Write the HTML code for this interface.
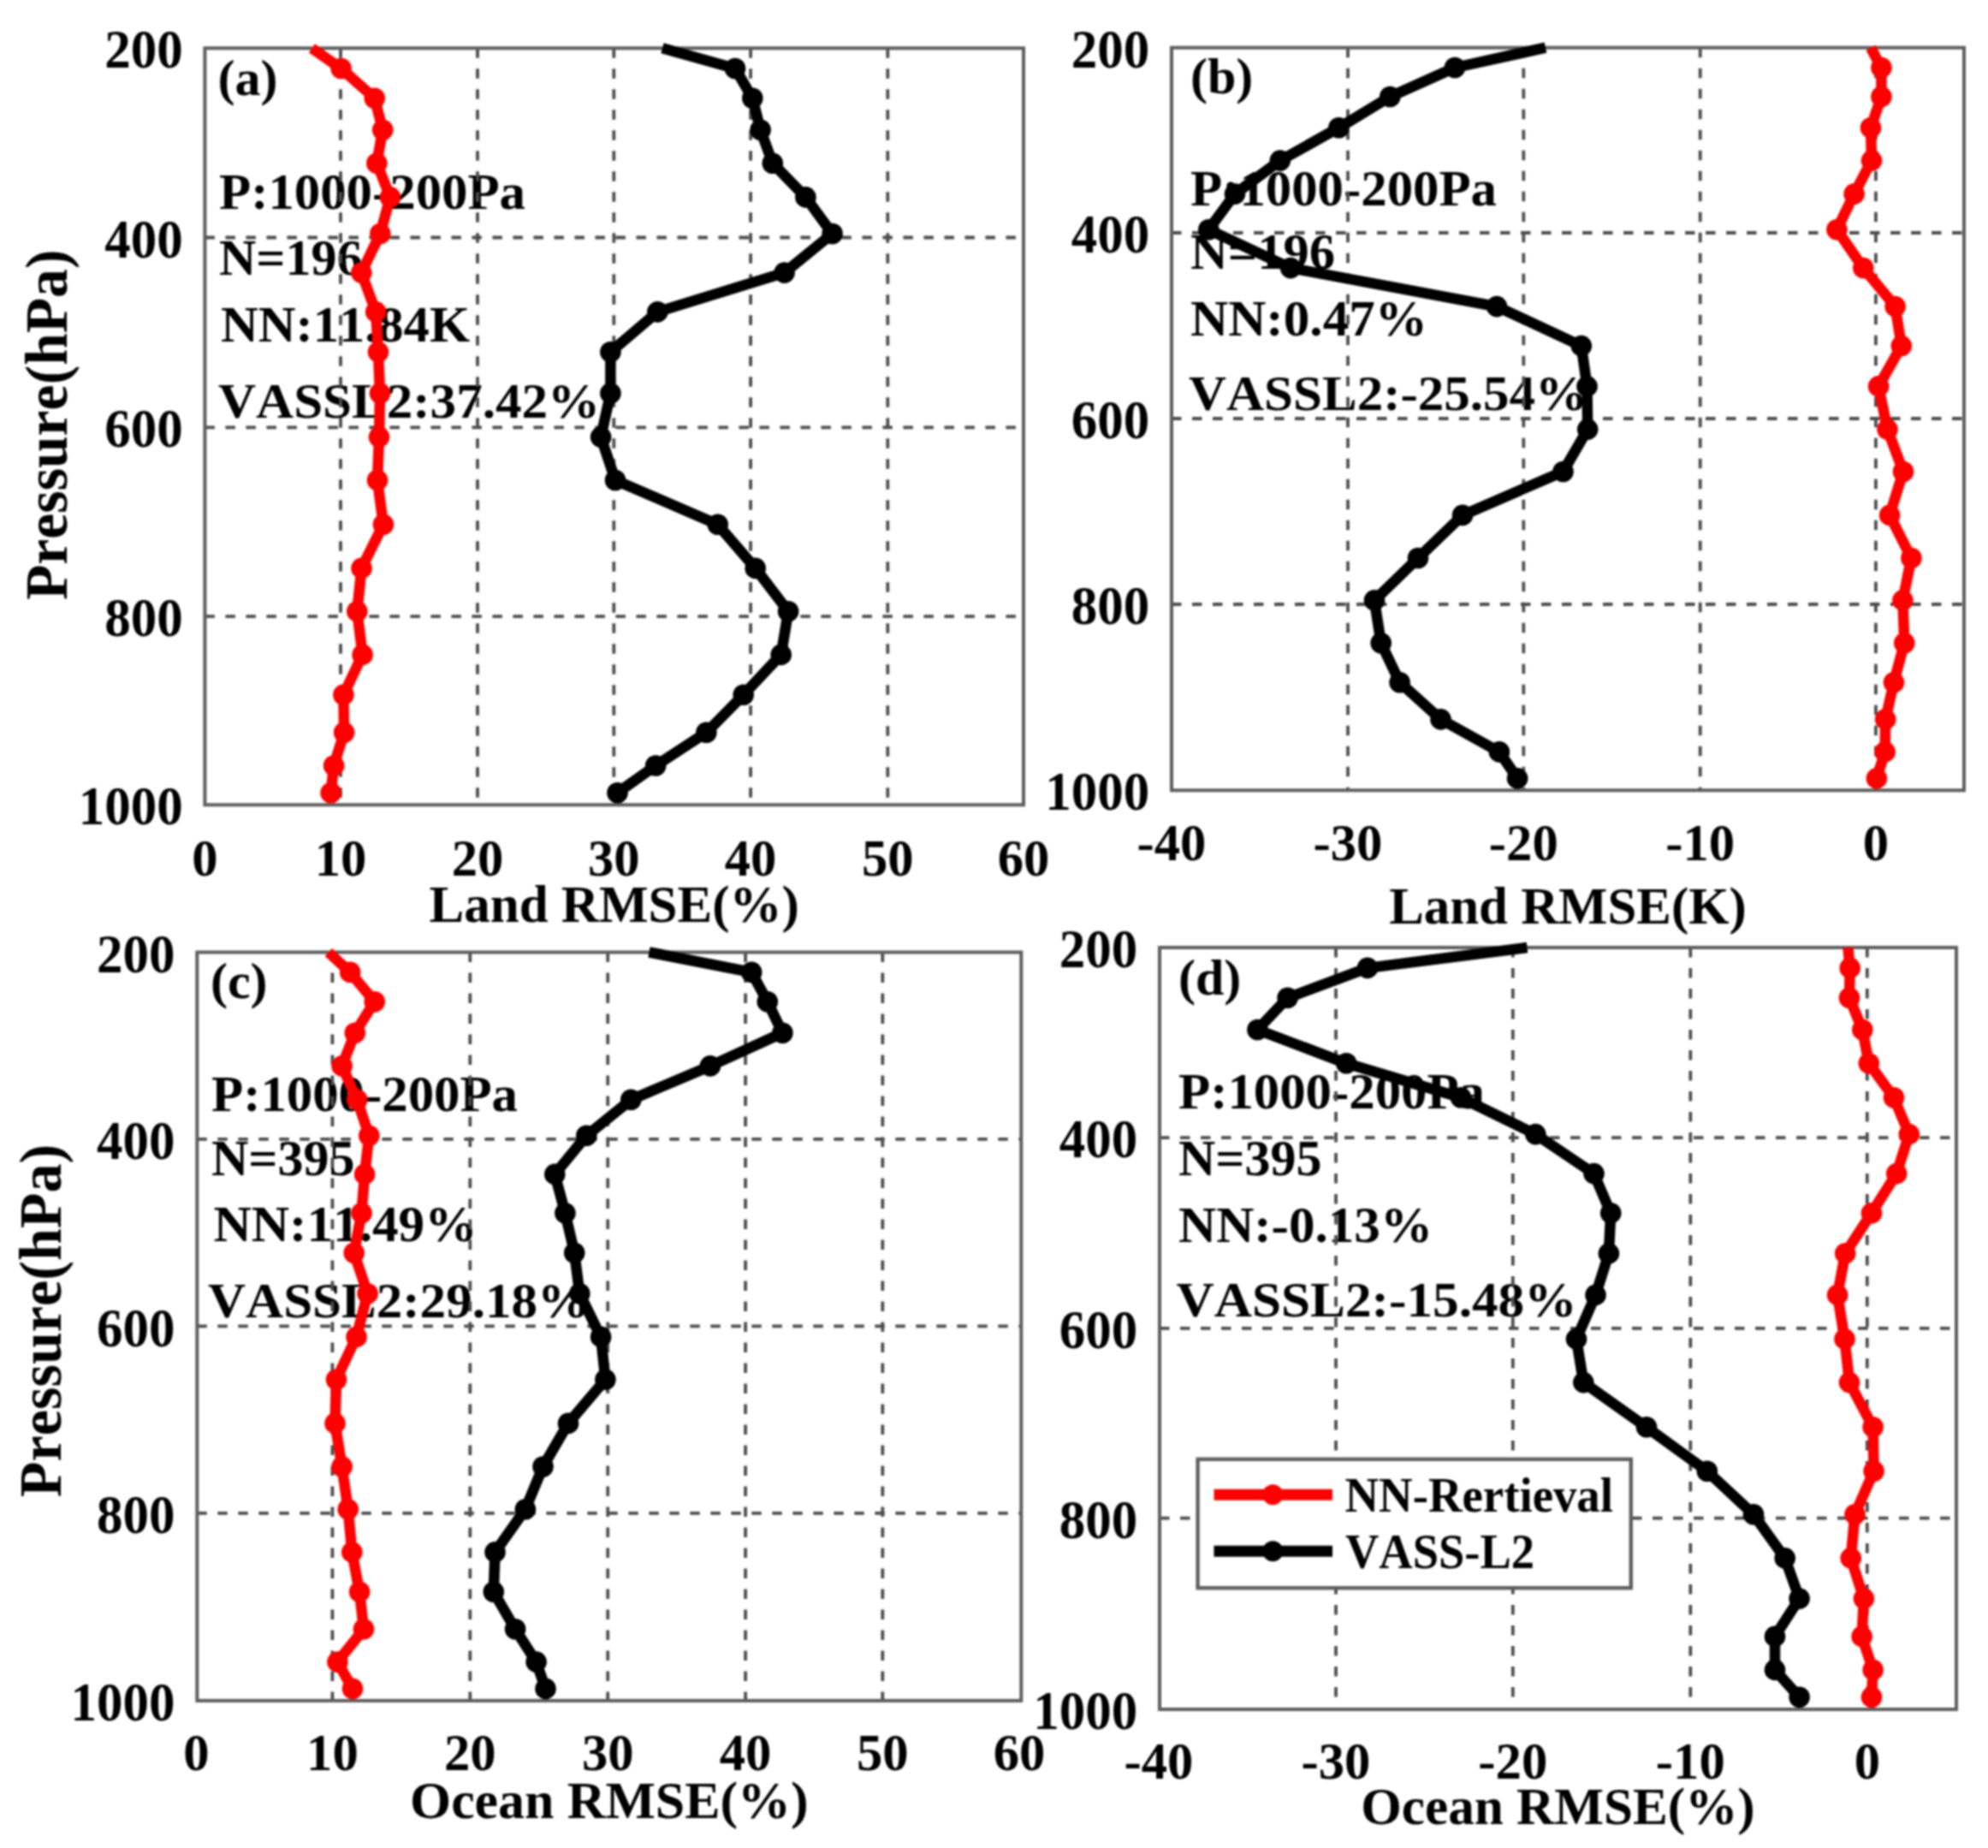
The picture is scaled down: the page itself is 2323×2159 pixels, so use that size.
<!DOCTYPE html>
<html lang="en">
<head>
<meta charset="utf-8">
<title>RMSE and bias profiles: NN-Retrieval vs VASS-L2</title>
<style>
html,body{margin:0;padding:0;background:#fff;}
body{width:2323px;height:2159px;overflow:hidden;}
svg{display:block;filter:blur(1px);}
svg text{font-family:'Liberation Serif','Times New Roman',Times,serif;font-weight:bold;fill:#000;font-kerning:none;}
</style>
</head>
<body>
<svg width="2323" height="2159" viewBox="0 0 2323 2159">
<rect width="2323" height="2159" fill="#fff"/>
<g id="panel-a">
<text x="254.5" y="111.0" font-size="60" text-anchor="start">(a)</text>
<text x="256.0" y="243.5" font-size="60" text-anchor="start" textLength="358" lengthAdjust="spacingAndGlyphs">P:1000-200Pa</text>
<text x="256.0" y="321.0" font-size="60" text-anchor="start">N=196</text>
<text x="258.0" y="399.0" font-size="60" text-anchor="start" textLength="291" lengthAdjust="spacingAndGlyphs">NN:11.84K</text>
<text x="255.0" y="488.0" font-size="58" text-anchor="start" textLength="446" lengthAdjust="spacingAndGlyphs">VASSL2:37.42%</text>
<path d="M398.0,56.3V940.3M558.0,56.3V940.3M717.3,56.3V940.3M877.1,56.3V940.3M1037.3,56.3V940.3M239.4,277.5H1196.0M239.4,499.3H1196.0M239.4,720.2H1196.0" fill="none" stroke="#4d4d4d" stroke-width="3.8" stroke-dasharray="11.5 12.5"/>
<rect x="239.4" y="56.3" width="956.6" height="884.0" fill="none" stroke="#5e5e5e" stroke-width="4"/>
<path d="M774.0,56.3 L859.0,80.0 L879.3,114.7 L888.6,151.7 L902.8,190.7 L941.4,230.4 L972.6,273.0 L916.6,318.6 L768.3,364.4 L713.4,411.3 L713.4,459.5 L702.1,510.6 L719.0,561.0 L838.7,612.8 L882.7,663.9 L921.1,714.2 L912.7,764.9 L868.7,811.8 L825.4,855.8 L766.2,894.5 L721.5,926.2" fill="none" stroke="#000" stroke-width="12.5" stroke-linejoin="round" stroke-linecap="butt"/>
<g fill="#000"><circle cx="859.0" cy="80.0" r="12.3"/><circle cx="879.3" cy="114.7" r="12.3"/><circle cx="888.6" cy="151.7" r="12.3"/><circle cx="902.8" cy="190.7" r="12.3"/><circle cx="941.4" cy="230.4" r="12.3"/><circle cx="972.6" cy="273.0" r="12.3"/><circle cx="916.6" cy="318.6" r="12.3"/><circle cx="768.3" cy="364.4" r="12.3"/><circle cx="713.4" cy="411.3" r="12.3"/><circle cx="713.4" cy="459.5" r="12.3"/><circle cx="702.1" cy="510.6" r="12.3"/><circle cx="719.0" cy="561.0" r="12.3"/><circle cx="838.7" cy="612.8" r="12.3"/><circle cx="882.7" cy="663.9" r="12.3"/><circle cx="921.1" cy="714.2" r="12.3"/><circle cx="912.7" cy="764.9" r="12.3"/><circle cx="868.7" cy="811.8" r="12.3"/><circle cx="825.4" cy="855.8" r="12.3"/><circle cx="766.2" cy="894.5" r="12.3"/><circle cx="721.5" cy="926.2" r="12.3"/></g>
<path d="M364.4,56.3 L398.6,80.0 L437.7,114.7 L447.2,151.7 L440.3,190.7 L456.0,230.4 L444.3,273.0 L422.3,318.6 L439.2,364.4 L442.0,411.3 L444.0,459.5 L443.0,510.6 L441.0,561.0 L447.9,612.8 L422.5,663.9 L417.3,714.2 L423.6,764.9 L401.4,811.8 L402.1,855.8 L390.1,894.5 L386.6,926.2" fill="none" stroke="#fe0000" stroke-width="12.5" stroke-linejoin="round" stroke-linecap="butt"/>
<g fill="#fe0000"><circle cx="398.6" cy="80.0" r="12.3"/><circle cx="437.7" cy="114.7" r="12.3"/><circle cx="447.2" cy="151.7" r="12.3"/><circle cx="440.3" cy="190.7" r="12.3"/><circle cx="456.0" cy="230.4" r="12.3"/><circle cx="444.3" cy="273.0" r="12.3"/><circle cx="422.3" cy="318.6" r="12.3"/><circle cx="439.2" cy="364.4" r="12.3"/><circle cx="442.0" cy="411.3" r="12.3"/><circle cx="444.0" cy="459.5" r="12.3"/><circle cx="443.0" cy="510.6" r="12.3"/><circle cx="441.0" cy="561.0" r="12.3"/><circle cx="447.9" cy="612.8" r="12.3"/><circle cx="422.5" cy="663.9" r="12.3"/><circle cx="417.3" cy="714.2" r="12.3"/><circle cx="423.6" cy="764.9" r="12.3"/><circle cx="401.4" cy="811.8" r="12.3"/><circle cx="402.1" cy="855.8" r="12.3"/><circle cx="390.1" cy="894.5" r="12.3"/><circle cx="386.6" cy="926.2" r="12.3"/></g>
<text x="213.7" y="79.4" font-size="63" text-anchor="end" textLength="91.5" lengthAdjust="spacingAndGlyphs">200</text>
<text x="213.7" y="300.6" font-size="63" text-anchor="end" textLength="91.5" lengthAdjust="spacingAndGlyphs">400</text>
<text x="213.7" y="522.4" font-size="63" text-anchor="end" textLength="91.5" lengthAdjust="spacingAndGlyphs">600</text>
<text x="213.7" y="743.3" font-size="63" text-anchor="end" textLength="91.5" lengthAdjust="spacingAndGlyphs">800</text>
<text x="213.7" y="963.4" font-size="63" text-anchor="end" textLength="122.0" lengthAdjust="spacingAndGlyphs">1000</text>
<text x="239.4" y="1022.5" font-size="62" text-anchor="middle" textLength="30.3" lengthAdjust="spacingAndGlyphs">0</text>
<text x="398.0" y="1022.5" font-size="62" text-anchor="middle" textLength="60.6" lengthAdjust="spacingAndGlyphs">10</text>
<text x="558.0" y="1022.5" font-size="62" text-anchor="middle" textLength="60.6" lengthAdjust="spacingAndGlyphs">20</text>
<text x="717.3" y="1022.5" font-size="62" text-anchor="middle" textLength="60.6" lengthAdjust="spacingAndGlyphs">30</text>
<text x="877.1" y="1022.5" font-size="62" text-anchor="middle" textLength="60.6" lengthAdjust="spacingAndGlyphs">40</text>
<text x="1037.3" y="1022.5" font-size="62" text-anchor="middle" textLength="60.6" lengthAdjust="spacingAndGlyphs">50</text>
<text x="1196.0" y="1022.5" font-size="62" text-anchor="middle" textLength="60.6" lengthAdjust="spacingAndGlyphs">60</text>
<text x="717.7" y="1076.5" font-size="61.5" text-anchor="middle" textLength="432.5" lengthAdjust="spacingAndGlyphs">Land RMSE(%)</text>
<text transform="translate(77.8,496.3) rotate(-90)" font-size="70" text-anchor="middle" textLength="409.5" lengthAdjust="spacingAndGlyphs">Pressure(hPa)</text>
</g>
<g id="panel-b">
<text x="1391.0" y="108.8" font-size="60" text-anchor="start">(b)</text>
<text x="1391.0" y="240.1" font-size="60" text-anchor="start" textLength="358" lengthAdjust="spacingAndGlyphs">P:1000-200Pa</text>
<text x="1391.0" y="314.4" font-size="60" text-anchor="start" textLength="169" lengthAdjust="spacingAndGlyphs">N=196</text>
<text x="1391.0" y="391.5" font-size="60" text-anchor="start" textLength="277" lengthAdjust="spacingAndGlyphs">NN:0.47%</text>
<text x="1389.0" y="478.9" font-size="58" text-anchor="start" textLength="466" lengthAdjust="spacingAndGlyphs">VASSL2:-25.54%</text>
<path d="M1575.0,55.7V923.3M1780.3,55.7V923.3M1986.7,55.7V923.3M2191.9,55.7V923.3M1369.0,272.0H2295.0M1369.0,489.0H2295.0M1369.0,706.0H2295.0" fill="none" stroke="#4d4d4d" stroke-width="3.8" stroke-dasharray="11.5 12.5"/>
<rect x="1369.0" y="55.7" width="926.0" height="867.6" fill="none" stroke="#5e5e5e" stroke-width="4"/>
<path d="M2186.0,55.7 L2198.4,79.0 L2198.4,113.0 L2186.0,149.3 L2187.0,187.6 L2166.6,226.6 L2146.4,268.3 L2177.3,313.1 L2214.6,358.1 L2221.8,404.1 L2195.1,451.4 L2205.5,501.6 L2224.0,551.0 L2208.1,601.9 L2233.4,652.0 L2223.4,701.4 L2225.3,751.2 L2213.0,797.2 L2203.2,840.4 L2202.6,878.4 L2192.9,909.4" fill="none" stroke="#fe0000" stroke-width="12.5" stroke-linejoin="round" stroke-linecap="butt"/>
<g fill="#fe0000"><circle cx="2198.4" cy="79.0" r="12.3"/><circle cx="2198.4" cy="113.0" r="12.3"/><circle cx="2186.0" cy="149.3" r="12.3"/><circle cx="2187.0" cy="187.6" r="12.3"/><circle cx="2166.6" cy="226.6" r="12.3"/><circle cx="2146.4" cy="268.3" r="12.3"/><circle cx="2177.3" cy="313.1" r="12.3"/><circle cx="2214.6" cy="358.1" r="12.3"/><circle cx="2221.8" cy="404.1" r="12.3"/><circle cx="2195.1" cy="451.4" r="12.3"/><circle cx="2205.5" cy="501.6" r="12.3"/><circle cx="2224.0" cy="551.0" r="12.3"/><circle cx="2208.1" cy="601.9" r="12.3"/><circle cx="2233.4" cy="652.0" r="12.3"/><circle cx="2223.4" cy="701.4" r="12.3"/><circle cx="2225.3" cy="751.2" r="12.3"/><circle cx="2213.0" cy="797.2" r="12.3"/><circle cx="2203.2" cy="840.4" r="12.3"/><circle cx="2202.6" cy="878.4" r="12.3"/><circle cx="2192.9" cy="909.4" r="12.3"/></g>
<path d="M1806.0,55.7 L1700.0,79.0 L1624.3,113.0 L1564.4,149.3 L1495.8,187.6 L1443.0,226.6 L1412.3,268.3 L1508.1,313.1 L1749.0,358.1 L1847.8,404.1 L1854.5,451.4 L1855.2,501.6 L1826.5,551.0 L1709.0,601.9 L1657.0,652.0 L1606.0,701.4 L1613.7,751.2 L1635.6,797.2 L1683.5,840.4 L1751.9,878.4 L1773.1,909.4" fill="none" stroke="#000" stroke-width="12.5" stroke-linejoin="round" stroke-linecap="butt"/>
<g fill="#000"><circle cx="1700.0" cy="79.0" r="12.3"/><circle cx="1624.3" cy="113.0" r="12.3"/><circle cx="1564.4" cy="149.3" r="12.3"/><circle cx="1495.8" cy="187.6" r="12.3"/><circle cx="1443.0" cy="226.6" r="12.3"/><circle cx="1412.3" cy="268.3" r="12.3"/><circle cx="1508.1" cy="313.1" r="12.3"/><circle cx="1749.0" cy="358.1" r="12.3"/><circle cx="1847.8" cy="404.1" r="12.3"/><circle cx="1854.5" cy="451.4" r="12.3"/><circle cx="1855.2" cy="501.6" r="12.3"/><circle cx="1826.5" cy="551.0" r="12.3"/><circle cx="1709.0" cy="601.9" r="12.3"/><circle cx="1657.0" cy="652.0" r="12.3"/><circle cx="1606.0" cy="701.4" r="12.3"/><circle cx="1613.7" cy="751.2" r="12.3"/><circle cx="1635.6" cy="797.2" r="12.3"/><circle cx="1683.5" cy="840.4" r="12.3"/><circle cx="1751.9" cy="878.4" r="12.3"/><circle cx="1773.1" cy="909.4" r="12.3"/></g>
<text x="1343.3" y="78.8" font-size="63" text-anchor="end" textLength="91.5" lengthAdjust="spacingAndGlyphs">200</text>
<text x="1343.3" y="295.1" font-size="63" text-anchor="end" textLength="91.5" lengthAdjust="spacingAndGlyphs">400</text>
<text x="1343.3" y="512.1" font-size="63" text-anchor="end" textLength="91.5" lengthAdjust="spacingAndGlyphs">600</text>
<text x="1343.3" y="729.1" font-size="63" text-anchor="end" textLength="91.5" lengthAdjust="spacingAndGlyphs">800</text>
<text x="1343.3" y="946.4" font-size="63" text-anchor="end" textLength="122.0" lengthAdjust="spacingAndGlyphs">1000</text>
<text x="1369.0" y="1005.0" font-size="62" text-anchor="middle" textLength="80.9" lengthAdjust="spacingAndGlyphs">-40</text>
<text x="1575.0" y="1005.0" font-size="62" text-anchor="middle" textLength="80.9" lengthAdjust="spacingAndGlyphs">-30</text>
<text x="1780.3" y="1005.0" font-size="62" text-anchor="middle" textLength="80.9" lengthAdjust="spacingAndGlyphs">-20</text>
<text x="1986.7" y="1005.0" font-size="62" text-anchor="middle" textLength="80.9" lengthAdjust="spacingAndGlyphs">-10</text>
<text x="2191.9" y="1005.0" font-size="62" text-anchor="middle" textLength="30.3" lengthAdjust="spacingAndGlyphs">0</text>
<text x="1832.0" y="1078.7" font-size="61.5" text-anchor="middle" textLength="417.5" lengthAdjust="spacingAndGlyphs">Land RMSE(K)</text>
</g>
<g id="panel-c">
<text x="246.0" y="1166.0" font-size="60" text-anchor="start">(c)</text>
<text x="247.0" y="1297.5" font-size="60" text-anchor="start" textLength="358" lengthAdjust="spacingAndGlyphs">P:1000-200Pa</text>
<text x="247.0" y="1373.3" font-size="60" text-anchor="start">N=395</text>
<text x="249.5" y="1450.3" font-size="60" text-anchor="start" textLength="308" lengthAdjust="spacingAndGlyphs">NN:11.49%</text>
<text x="243.0" y="1539.3" font-size="58" text-anchor="start" textLength="446" lengthAdjust="spacingAndGlyphs">VASSL2:29.18%</text>
<path d="M388.4,1112.5V1986.9M549.3,1112.5V1986.9M710.2,1112.5V1986.9M871.1,1112.5V1986.9M1031.3,1112.5V1986.9M230.3,1330.8H1193.3M230.3,1549.4H1193.3M230.3,1767.8H1193.3" fill="none" stroke="#4d4d4d" stroke-width="3.8" stroke-dasharray="11.5 12.5"/>
<rect x="230.3" y="1112.5" width="963.0" height="874.4" fill="none" stroke="#5e5e5e" stroke-width="4"/>
<path d="M758.5,1112.5 L878.2,1135.9 L896.8,1170.3 L914.4,1206.8 L829.9,1245.4 L737.3,1284.8 L685.3,1326.8 L648.3,1371.9 L660.4,1417.2 L671.2,1463.7 L677.3,1511.3 L702.1,1561.9 L707.4,1611.7 L664.0,1662.9 L634.5,1713.5 L613.9,1763.2 L578.5,1813.4 L576.8,1859.8 L602.1,1903.3 L626.6,1941.6 L637.5,1972.9" fill="none" stroke="#000" stroke-width="12.5" stroke-linejoin="round" stroke-linecap="butt"/>
<g fill="#000"><circle cx="878.2" cy="1135.9" r="12.3"/><circle cx="896.8" cy="1170.3" r="12.3"/><circle cx="914.4" cy="1206.8" r="12.3"/><circle cx="829.9" cy="1245.4" r="12.3"/><circle cx="737.3" cy="1284.8" r="12.3"/><circle cx="685.3" cy="1326.8" r="12.3"/><circle cx="648.3" cy="1371.9" r="12.3"/><circle cx="660.4" cy="1417.2" r="12.3"/><circle cx="671.2" cy="1463.7" r="12.3"/><circle cx="677.3" cy="1511.3" r="12.3"/><circle cx="702.1" cy="1561.9" r="12.3"/><circle cx="707.4" cy="1611.7" r="12.3"/><circle cx="664.0" cy="1662.9" r="12.3"/><circle cx="634.5" cy="1713.5" r="12.3"/><circle cx="613.9" cy="1763.2" r="12.3"/><circle cx="578.5" cy="1813.4" r="12.3"/><circle cx="576.8" cy="1859.8" r="12.3"/><circle cx="602.1" cy="1903.3" r="12.3"/><circle cx="626.6" cy="1941.6" r="12.3"/><circle cx="637.5" cy="1972.9" r="12.3"/></g>
<path d="M383.8,1112.5 L409.2,1135.9 L437.7,1170.3 L414.8,1206.8 L399.6,1245.4 L417.3,1284.8 L431.3,1326.8 L426.1,1371.9 L422.5,1417.2 L413.7,1463.7 L429.6,1511.3 L416.5,1561.9 L393.0,1611.7 L391.5,1662.9 L399.6,1713.5 L406.7,1763.2 L411.3,1813.4 L420.1,1859.8 L425.0,1903.3 L394.4,1941.6 L412.0,1972.9" fill="none" stroke="#fe0000" stroke-width="12.5" stroke-linejoin="round" stroke-linecap="butt"/>
<g fill="#fe0000"><circle cx="409.2" cy="1135.9" r="12.3"/><circle cx="437.7" cy="1170.3" r="12.3"/><circle cx="414.8" cy="1206.8" r="12.3"/><circle cx="399.6" cy="1245.4" r="12.3"/><circle cx="417.3" cy="1284.8" r="12.3"/><circle cx="431.3" cy="1326.8" r="12.3"/><circle cx="426.1" cy="1371.9" r="12.3"/><circle cx="422.5" cy="1417.2" r="12.3"/><circle cx="413.7" cy="1463.7" r="12.3"/><circle cx="429.6" cy="1511.3" r="12.3"/><circle cx="416.5" cy="1561.9" r="12.3"/><circle cx="393.0" cy="1611.7" r="12.3"/><circle cx="391.5" cy="1662.9" r="12.3"/><circle cx="399.6" cy="1713.5" r="12.3"/><circle cx="406.7" cy="1763.2" r="12.3"/><circle cx="411.3" cy="1813.4" r="12.3"/><circle cx="420.1" cy="1859.8" r="12.3"/><circle cx="425.0" cy="1903.3" r="12.3"/><circle cx="394.4" cy="1941.6" r="12.3"/><circle cx="412.0" cy="1972.9" r="12.3"/></g>
<text x="204.6" y="1135.6" font-size="63" text-anchor="end" textLength="91.5" lengthAdjust="spacingAndGlyphs">200</text>
<text x="204.6" y="1353.9" font-size="63" text-anchor="end" textLength="91.5" lengthAdjust="spacingAndGlyphs">400</text>
<text x="204.6" y="1572.5" font-size="63" text-anchor="end" textLength="91.5" lengthAdjust="spacingAndGlyphs">600</text>
<text x="204.6" y="1790.9" font-size="63" text-anchor="end" textLength="91.5" lengthAdjust="spacingAndGlyphs">800</text>
<text x="204.6" y="2010.0" font-size="63" text-anchor="end" textLength="122.0" lengthAdjust="spacingAndGlyphs">1000</text>
<text x="229.5" y="2067.5" font-size="62" text-anchor="middle" textLength="30.3" lengthAdjust="spacingAndGlyphs">0</text>
<text x="388.4" y="2067.5" font-size="62" text-anchor="middle" textLength="60.6" lengthAdjust="spacingAndGlyphs">10</text>
<text x="549.3" y="2067.5" font-size="62" text-anchor="middle" textLength="60.6" lengthAdjust="spacingAndGlyphs">20</text>
<text x="710.2" y="2067.5" font-size="62" text-anchor="middle" textLength="60.6" lengthAdjust="spacingAndGlyphs">30</text>
<text x="871.1" y="2067.5" font-size="62" text-anchor="middle" textLength="60.6" lengthAdjust="spacingAndGlyphs">40</text>
<text x="1031.3" y="2067.5" font-size="62" text-anchor="middle" textLength="60.6" lengthAdjust="spacingAndGlyphs">50</text>
<text x="1191.0" y="2067.5" font-size="62" text-anchor="middle" textLength="60.6" lengthAdjust="spacingAndGlyphs">60</text>
<text x="711.8" y="2124.2" font-size="61.5" text-anchor="middle" textLength="465.5" lengthAdjust="spacingAndGlyphs">Ocean RMSE(%)</text>
<text transform="translate(71.0,1543.0) rotate(-90)" font-size="70" text-anchor="middle" textLength="412.3" lengthAdjust="spacingAndGlyphs">Pressure(hPa)</text>
</g>
<g id="panel-d">
<text x="1377.0" y="1162.0" font-size="60" text-anchor="start">(d)</text>
<text x="1377.0" y="1295.0" font-size="60" text-anchor="start" textLength="358" lengthAdjust="spacingAndGlyphs">P:1000-200Pa</text>
<text x="1377.0" y="1373.0" font-size="60" text-anchor="start">N=395</text>
<text x="1377.0" y="1451.0" font-size="60" text-anchor="start" textLength="297" lengthAdjust="spacingAndGlyphs">NN:-0.13%</text>
<text x="1374.5" y="1538.3" font-size="58" text-anchor="start" textLength="468" lengthAdjust="spacingAndGlyphs">VASSL2:-15.48%</text>
<path d="M1561.0,1107.0V1997.0M1767.8,1107.0V1997.0M1975.3,1107.0V1997.0M2181.8,1107.0V1997.0M1355.0,1329.2H2286.0M1355.0,1551.9H2286.0M1355.0,1773.6H2286.0" fill="none" stroke="#4d4d4d" stroke-width="3.8" stroke-dasharray="11.5 12.5"/>
<rect x="1355.0" y="1107.0" width="931.0" height="890.0" fill="none" stroke="#5e5e5e" stroke-width="4"/>
<path d="M2159.4,1107.0 L2161.7,1130.9 L2161.0,1165.8 L2176.3,1203.0 L2183.8,1242.3 L2213.0,1282.3 L2230.8,1325.1 L2216.2,1371.1 L2187.0,1417.2 L2156.2,1464.4 L2147.1,1512.9 L2155.5,1564.4 L2161.0,1615.1 L2188.6,1667.3 L2189.6,1718.7 L2167.5,1769.3 L2162.7,1820.4 L2177.9,1867.6 L2175.6,1911.9 L2188.6,1950.9 L2187.0,1982.8" fill="none" stroke="#fe0000" stroke-width="12.5" stroke-linejoin="round" stroke-linecap="butt"/>
<g fill="#fe0000"><circle cx="2161.7" cy="1130.9" r="12.3"/><circle cx="2161.0" cy="1165.8" r="12.3"/><circle cx="2176.3" cy="1203.0" r="12.3"/><circle cx="2183.8" cy="1242.3" r="12.3"/><circle cx="2213.0" cy="1282.3" r="12.3"/><circle cx="2230.8" cy="1325.1" r="12.3"/><circle cx="2216.2" cy="1371.1" r="12.3"/><circle cx="2187.0" cy="1417.2" r="12.3"/><circle cx="2156.2" cy="1464.4" r="12.3"/><circle cx="2147.1" cy="1512.9" r="12.3"/><circle cx="2155.5" cy="1564.4" r="12.3"/><circle cx="2161.0" cy="1615.1" r="12.3"/><circle cx="2188.6" cy="1667.3" r="12.3"/><circle cx="2189.6" cy="1718.7" r="12.3"/><circle cx="2167.5" cy="1769.3" r="12.3"/><circle cx="2162.7" cy="1820.4" r="12.3"/><circle cx="2177.9" cy="1867.6" r="12.3"/><circle cx="2175.6" cy="1911.9" r="12.3"/><circle cx="2188.6" cy="1950.9" r="12.3"/><circle cx="2187.0" cy="1982.8" r="12.3"/></g>
<path d="M1784.5,1107.0 L1597.9,1130.9 L1504.6,1165.8 L1469.4,1203.0 L1573.2,1242.3 L1707.0,1282.3 L1794.3,1325.1 L1862.5,1371.1 L1882.2,1417.2 L1879.9,1464.4 L1864.5,1512.9 L1842.0,1564.4 L1850.3,1615.1 L1924.0,1667.3 L1994.8,1718.7 L2049.0,1769.3 L2085.7,1820.4 L2102.6,1867.6 L2074.0,1911.9 L2074.0,1950.9 L2102.6,1982.8" fill="none" stroke="#000" stroke-width="12.5" stroke-linejoin="round" stroke-linecap="butt"/>
<g fill="#000"><circle cx="1597.9" cy="1130.9" r="12.3"/><circle cx="1504.6" cy="1165.8" r="12.3"/><circle cx="1469.4" cy="1203.0" r="12.3"/><circle cx="1573.2" cy="1242.3" r="12.3"/><circle cx="1707.0" cy="1282.3" r="12.3"/><circle cx="1794.3" cy="1325.1" r="12.3"/><circle cx="1862.5" cy="1371.1" r="12.3"/><circle cx="1882.2" cy="1417.2" r="12.3"/><circle cx="1879.9" cy="1464.4" r="12.3"/><circle cx="1864.5" cy="1512.9" r="12.3"/><circle cx="1842.0" cy="1564.4" r="12.3"/><circle cx="1850.3" cy="1615.1" r="12.3"/><circle cx="1924.0" cy="1667.3" r="12.3"/><circle cx="1994.8" cy="1718.7" r="12.3"/><circle cx="2049.0" cy="1769.3" r="12.3"/><circle cx="2085.7" cy="1820.4" r="12.3"/><circle cx="2102.6" cy="1867.6" r="12.3"/><circle cx="2074.0" cy="1911.9" r="12.3"/><circle cx="2074.0" cy="1950.9" r="12.3"/><circle cx="2102.6" cy="1982.8" r="12.3"/></g>
<text x="1329.3" y="1130.1" font-size="63" text-anchor="end" textLength="91.5" lengthAdjust="spacingAndGlyphs">200</text>
<text x="1329.3" y="1352.3" font-size="63" text-anchor="end" textLength="91.5" lengthAdjust="spacingAndGlyphs">400</text>
<text x="1329.3" y="1575.0" font-size="63" text-anchor="end" textLength="91.5" lengthAdjust="spacingAndGlyphs">600</text>
<text x="1329.3" y="1796.7" font-size="63" text-anchor="end" textLength="91.5" lengthAdjust="spacingAndGlyphs">800</text>
<text x="1329.3" y="2020.1" font-size="63" text-anchor="end" textLength="122.0" lengthAdjust="spacingAndGlyphs">1000</text>
<text x="1354.0" y="2077.5" font-size="62" text-anchor="middle" textLength="80.9" lengthAdjust="spacingAndGlyphs">-40</text>
<text x="1561.0" y="2077.5" font-size="62" text-anchor="middle" textLength="80.9" lengthAdjust="spacingAndGlyphs">-30</text>
<text x="1767.8" y="2077.5" font-size="62" text-anchor="middle" textLength="80.9" lengthAdjust="spacingAndGlyphs">-20</text>
<text x="1975.3" y="2077.5" font-size="62" text-anchor="middle" textLength="80.9" lengthAdjust="spacingAndGlyphs">-10</text>
<text x="2181.8" y="2077.5" font-size="62" text-anchor="middle" textLength="30.3" lengthAdjust="spacingAndGlyphs">0</text>
<text x="1820.5" y="2130.7" font-size="61.5" text-anchor="middle" textLength="460.5" lengthAdjust="spacingAndGlyphs">Ocean RMSE(%)</text>
</g>
<g id="legend">
<rect x="1399.6" y="1704.8" width="506.2" height="150.4" fill="#fff" stroke="#5e5e5e" stroke-width="4.4"/>
<path d="M1418.5,1746.2H1557" stroke="#fe0000" stroke-width="13" fill="none"/><circle cx="1487.3" cy="1746.2" r="12" fill="#fe0000"/>
<path d="M1418.5,1812.3H1557" stroke="#000" stroke-width="13" fill="none"/><circle cx="1487.3" cy="1812.3" r="12" fill="#000"/>
<text x="1571.5" y="1766.3" font-size="57" text-anchor="start" textLength="313.5" lengthAdjust="spacingAndGlyphs">NN-Rertieval</text>
<text x="1572.0" y="1831.5" font-size="57" text-anchor="start" textLength="221" lengthAdjust="spacingAndGlyphs">VASS-L2</text>
</g>
</svg>
</body>
</html>
